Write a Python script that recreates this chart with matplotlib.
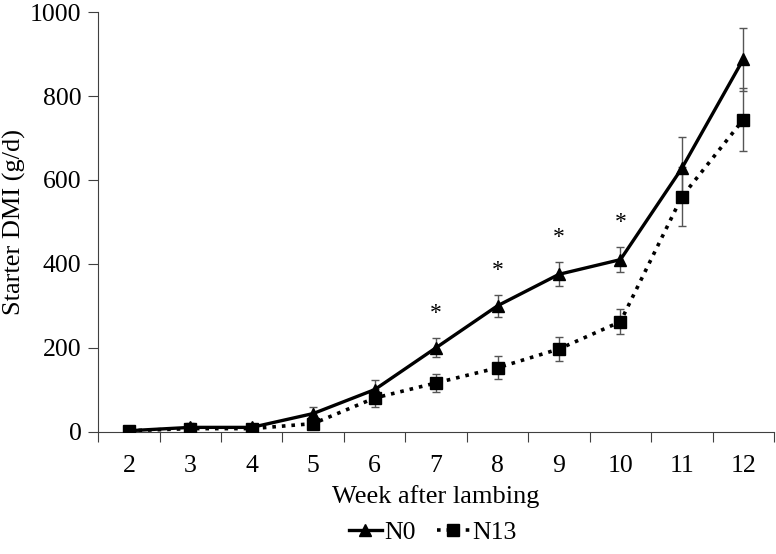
import matplotlib
matplotlib.use("Agg")
import matplotlib.pyplot as plt
import numpy as np

weeks = [2, 3, 4, 5, 6, 7, 8, 9, 10, 11, 12]
n0 = [2, 10, 10, 43, 100, 200, 300, 375, 410, 628, 888]
n0_se = [3, 10, 9, 15, 23, 23, 26, 29, 30, 75, 75]
n13 = [2, 7, 7, 19, 80, 116, 152, 197, 262, 560, 744]
n13_se = [2, 5, 5, 8, 21, 22, 27, 29, 30, 70, 76]
sig_weeks = [7, 8, 9, 10]
yticks = [0, 200, 400, 600, 800, 1000]

plt.rcParams['font.family'] = ['Liberation Serif', 'DejaVu Serif']
fig = plt.figure(figsize=(7.76, 5.54), dpi=100)
ax = fig.add_axes([0.1265, 0.221, 0.871, 0.757])

x = np.array(weeks)
ax.errorbar(x, n0, yerr=n0_se, fmt='none', ecolor='#555555', elinewidth=1.0, capsize=3, capthick=1.0, zorder=2)
ax.errorbar(x, n13, yerr=n13_se, fmt='none', ecolor='#555555', elinewidth=1.0, capsize=3, capthick=1.0, zorder=2)
ax.plot(x, n0, '-', color='black', lw=2.4, marker='^', ms=9, label='N0', zorder=3)
ax.plot(x, n13, ':', color='black', lw=2.6, marker='s', ms=8, label='N13', zorder=3)

for w in sig_weeks:
    i = weeks.index(w)
    ax.text(w, n0[i] + n0_se[i] + 58, '*', ha='center', va='center', fontsize=17)

ax.set_xlim(1.5, 12.5)
ax.set_ylim(0, 1000)
ax.set_xticks(np.arange(1.5, 13, 1.0))
ax.set_xticklabels([])
ax.set_xticks(x, minor=True)
ax.set_xticklabels([str(w) for w in weeks], minor=True)
ax.tick_params(axis='x', which='major', direction='out', length=7, color='#404040')
ax.tick_params(axis='x', which='minor', length=0, labelsize=18.5, pad=17)
ax.set_yticks(yticks)
ax.set_yticklabels([str(t) for t in yticks])
ax.tick_params(axis='y', direction='out', length=7, labelsize=18.5, pad=5, color='#404040')

for s in ['top', 'right']:
    ax.spines[s].set_visible(False)
for s in ['left', 'bottom']:
    ax.spines[s].set_color('#404040')

ax.set_xlabel('Week after lambing', fontsize=19, labelpad=5.5)
ax.set_ylabel('Starter DMI (g/d)', fontsize=19, labelpad=3)

ax.legend(loc='upper center', bbox_to_anchor=(0.495, -0.2), ncol=2, frameon=False,
          fontsize=18.5, handlelength=1.3, handletextpad=0.1, columnspacing=0.8,
          borderaxespad=0.0, borderpad=0.2)

fig.savefig('out.png', dpi=100)
